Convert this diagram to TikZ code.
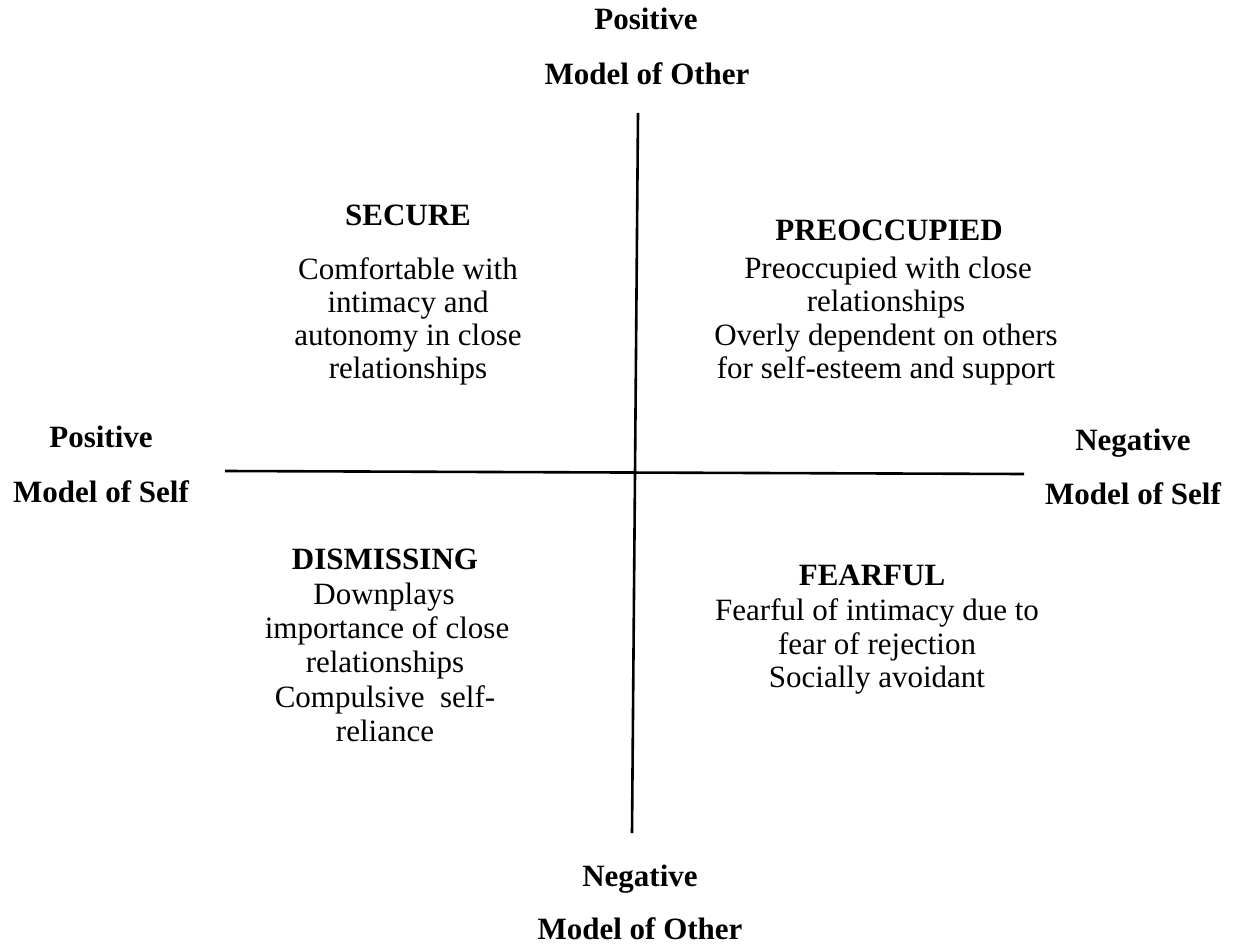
\documentclass[tikz,border=0pt]{standalone}
\usepackage{fontspec}
\setmainfont{Liberation Serif}
\begin{document}
\begin{tikzpicture}[x=1pt,y=-1pt,
  head/.style={anchor=base,inner sep=0pt,font=\fontsize{31}{33}\selectfont\bfseries},
  body/.style={anchor=base,inner sep=0pt,font=\fontsize{31}{33}\selectfont},
  axis/.style={line width=2.6pt}]
\useasboundingbox (0,0) rectangle (1233,944);

% axes
\coordinate (vtop) at (638,113);
\coordinate (vbot) at (632,833);
\coordinate (hleft) at (225,471);
\coordinate (hright) at (1024,474);
\draw[axis] (vtop) -- (vbot);
\draw[axis] (hleft) -- (hright);

% axis labels
\node[head] (pt1) at (646,30) {Positive};
\node[head] (pt2) at (647,85) {Model of Other};
\node[head] (nb1) at (640,886) {Negative};
\node[head] (nb2) at (640,939) {Model of Other};
\node[head] (pl1) at (101,447) {Positive};
\node[head] (pl2) at (101,502) {Model of Self};
\node[head] (nr1) at (1133,450) {Negative};
\node[head] (nr2) at (1133,504) {Model of Self};

% secure quadrant
\node[head] (sec) at (408,225) {SECURE};
\node[body] (sec1) at (408,279) {Comfortable with};
\node[body] (sec2) at (408,312) {intimacy and};
\node[body] (sec3) at (408,345) {autonomy in close};
\node[body] (sec4) at (408,378) {relationships};

% preoccupied quadrant
\node[head] (pre) at (889,240) {PREOCCUPIED};
\node[body] (pre1) at (888,278) {Preoccupied with close};
\node[body] (pre2) at (886,311) {relationships};
\node[body] (pre3) at (886,345) {Overly dependent on others};
\node[body] (pre4) at (886,378) {for self-esteem and support};

% dismissing quadrant
\node[head] (dis) at (385,569) {DISMISSING};
\node[body] (dis1) at (384,604) {Downplays};
\node[body] (dis2) at (387,638) {importance of close};
\node[body] (dis3) at (385,672) {relationships};
\node[body] (dis4) at (385,707) {Compulsive\ \ self-};
\node[body] (dis5) at (385,741) {reliance};

% fearful quadrant
\node[head] (fea) at (872,585) {FEARFUL};
\node[body] (fea1) at (877,620) {Fearful of intimacy due to};
\node[body] (fea2) at (877,654) {fear of rejection};
\node[body] (fea3) at (877,687) {Socially avoidant};
\end{tikzpicture}
\end{document}
